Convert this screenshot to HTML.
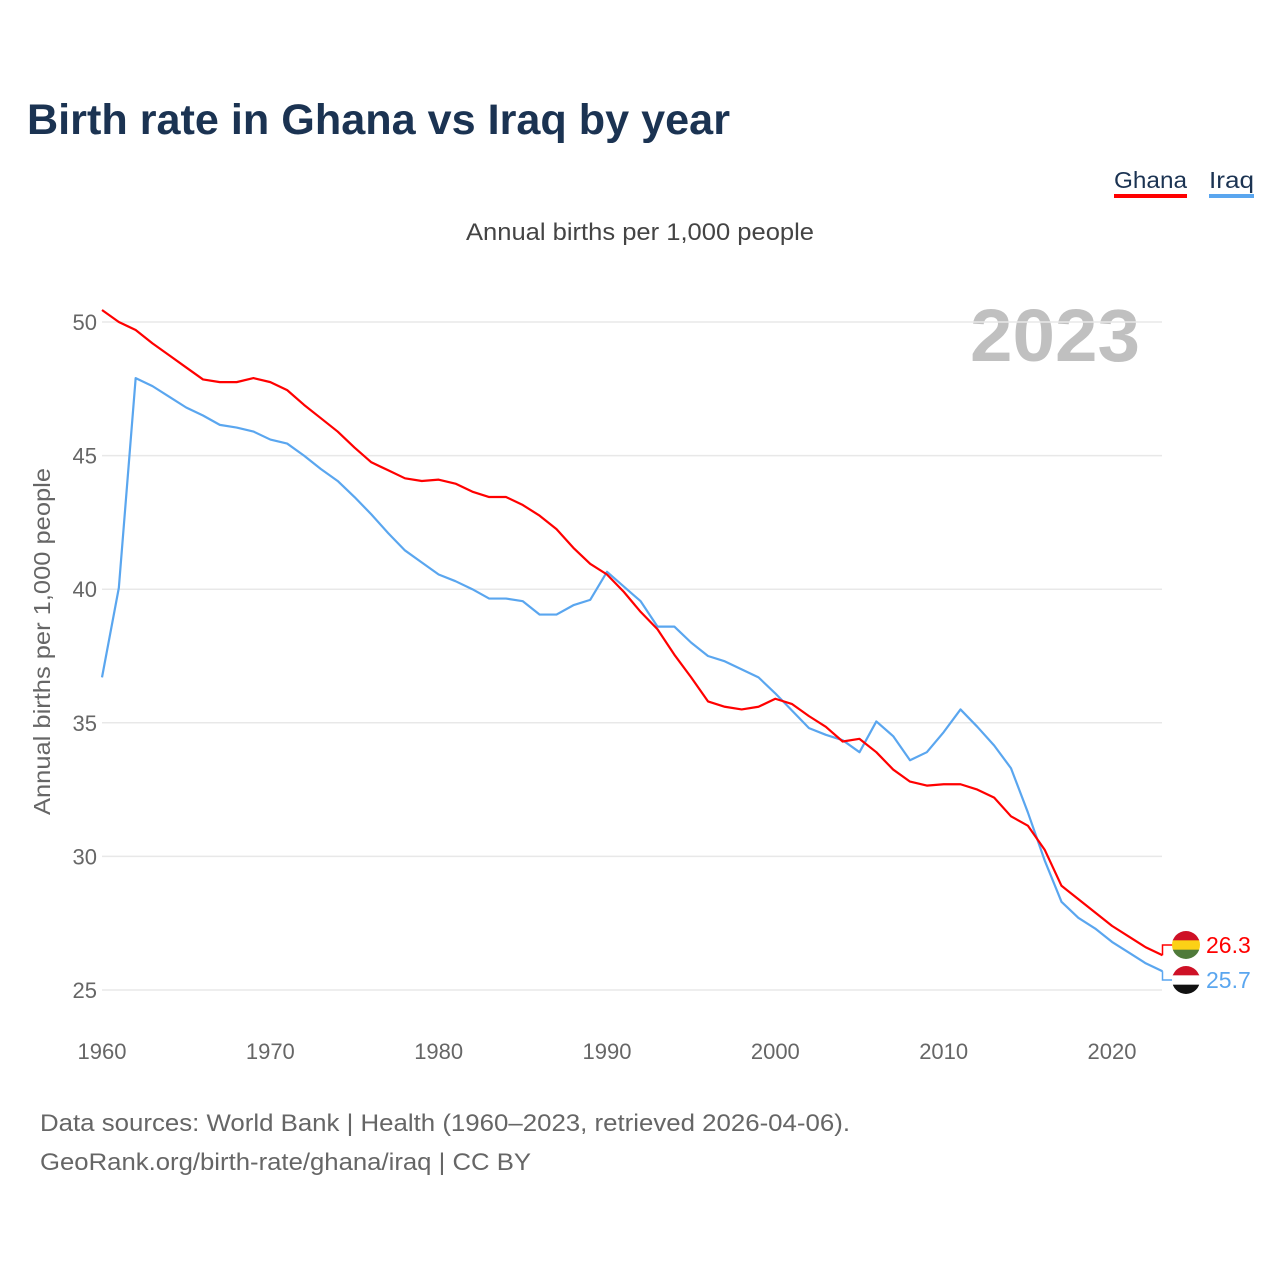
<!DOCTYPE html>
<html><head><meta charset="utf-8"><style>
body{margin:0;background:#fff;width:1280px;height:1280px;overflow:hidden;font-family:"Liberation Sans",sans-serif}
svg{display:block}
</style></head><body>
<svg width="1280" height="1280">
<text x="27" y="134" font-size="43" font-weight="bold" fill="#1b3352" textLength="703" lengthAdjust="spacingAndGlyphs">Birth rate in Ghana vs Iraq by year</text>
<g>
<text x="1114" y="188" font-size="23" fill="#1b3352" textLength="73" lengthAdjust="spacingAndGlyphs">Ghana</text>
<rect x="1114" y="194" width="73" height="4" fill="#ff0000"/>
<text x="1209" y="188" font-size="23" fill="#1b3352" textLength="45" lengthAdjust="spacingAndGlyphs">Iraq</text>
<rect x="1209" y="194" width="45" height="4" fill="#5aa6ef"/>
</g>
<text x="466" y="240" font-size="24" fill="#444" textLength="348" lengthAdjust="spacingAndGlyphs">Annual births per 1,000 people</text>
<text x="970" y="361" font-size="74" font-weight="bold" fill="#c0c0c0" textLength="170" lengthAdjust="spacingAndGlyphs">2023</text>
<text transform="translate(50,815) rotate(-90)" font-size="23" fill="#666" textLength="347" lengthAdjust="spacingAndGlyphs">Annual births per 1,000 people</text>
<g id="grid"></g><g id="xt"></g><g id="lines"></g><g id="ends"></g>
<text x="40" y="1131" font-size="24" fill="#666" textLength="810" lengthAdjust="spacingAndGlyphs">Data sources: World Bank | Health (1960–2023, retrieved 2026-04-06).</text>
<text x="40" y="1170" font-size="24" fill="#666" textLength="491" lengthAdjust="spacingAndGlyphs">GeoRank.org/birth-rate/ghana/iraq | CC BY</text>
</svg>
<script>
const years=[];for(let y=1960;y<=2023;y++)years.push(y);
const ghana=[50.45,50.0,49.7,49.2,48.75,48.3,47.85,47.75,47.75,47.9,47.75,47.45,46.9,46.4,45.9,45.3,44.75,44.45,44.15,44.05,44.1,43.95,43.65,43.45,43.45,43.15,42.75,42.25,41.55,40.95,40.55,39.9,39.15,38.5,37.55,36.7,35.8,35.6,35.5,35.6,35.9,35.7,35.25,34.85,34.3,34.4,33.9,33.25,32.8,32.65,32.7,32.7,32.5,32.2,31.5,31.15,30.25,28.9,28.4,27.9,27.4,27.0,26.6,26.3];
const iraq=[36.7,40.05,47.9,47.6,47.2,46.8,46.5,46.15,46.05,45.9,45.6,45.45,45.0,44.5,44.05,43.45,42.8,42.1,41.45,41.0,40.55,40.3,40.0,39.65,39.65,39.55,39.05,39.05,39.4,39.6,40.65,40.1,39.55,38.6,38.6,38.0,37.5,37.3,37.0,36.7,36.1,35.45,34.8,34.55,34.35,33.9,35.05,34.5,33.6,33.9,34.65,35.5,34.85,34.15,33.3,31.65,29.85,28.3,27.7,27.3,26.8,26.4,26.0,25.7];
const yTicks=[25,30,35,40,45,50];
const xTicks=[1960,1970,1980,1990,2000,2010,2020];
const NS="http://www.w3.org/2000/svg";
const X=y=>102+(y-1960)*(1010/60);
const Y=v=>322+(50-v)*(668/25);
function mk(t,a,p){const e=document.createElementNS(NS,t);for(const k in a)e.setAttribute(k,a[k]);p.appendChild(e);return e;}
const grid=document.getElementById('grid');
yTicks.forEach(v=>{
 const l=mk('line',{x1:102,x2:1162,y1:Y(v),y2:Y(v),stroke:'#e8e8e8','stroke-width':1.5},grid);
 
 
 const t=mk('text',{x:97,y:Y(v)+8,'font-size':22,fill:'#666','text-anchor':'end'},grid);t.textContent=v;
 
 
});
const xt=document.getElementById('xt');
xTicks.forEach(v=>{
 const t=mk('text',{x:X(v),y:1059,'font-size':22,fill:'#666','text-anchor':'middle'},xt);t.textContent=v;
 
 
});
const lines=document.getElementById('lines');
function series(d,c,n){
 const p=mk('polyline',{points:d.map((v,i)=>X(years[i])+','+Y(v)).join(' '),fill:'none',stroke:c,'stroke-width':2.2,'stroke-linejoin':'round'},lines);
 
 
}
series(iraq,'#5aa6ef','iraq-line');
series(ghana,'#ff0000','ghana-line');
const ends=document.getElementById('ends');
function end(d,c,n,ly,flag){
 const lx=X(2023),vy=Y(d[d.length-1]);
 mk('polyline',{points:`${lx},${vy} ${lx},${ly} ${lx+10},${ly}`,fill:'none',stroke:c,'stroke-width':1.5},ends);
 const g=mk('g',{},ends);
 
 
 const cx=1186,r=14;
 flag.forEach((col,i)=>mk('rect',{x:cx-r,y:ly-r+i*(2*r/3),width:2*r,height:2*r/3+0.5,fill:col,'clip-path':'url(#c'+n+')'},g));
 const cp=mk('clipPath',{id:'c'+n},g);mk('circle',{cx:cx,cy:ly,r:r},cp);
 const t=mk('text',{x:1206,y:ly+8,'font-size':23,fill:c},ends);t.textContent=d[d.length-1].toFixed(1);
 
 
}
end(ghana,'#ff0000','ghana',945,['#ce1126','#fcd116','#4f7a3a']);
end(iraq,'#5aa6ef','iraq',980,['#ce1126','#ffffff','#111111']);
</script>
</body></html>
